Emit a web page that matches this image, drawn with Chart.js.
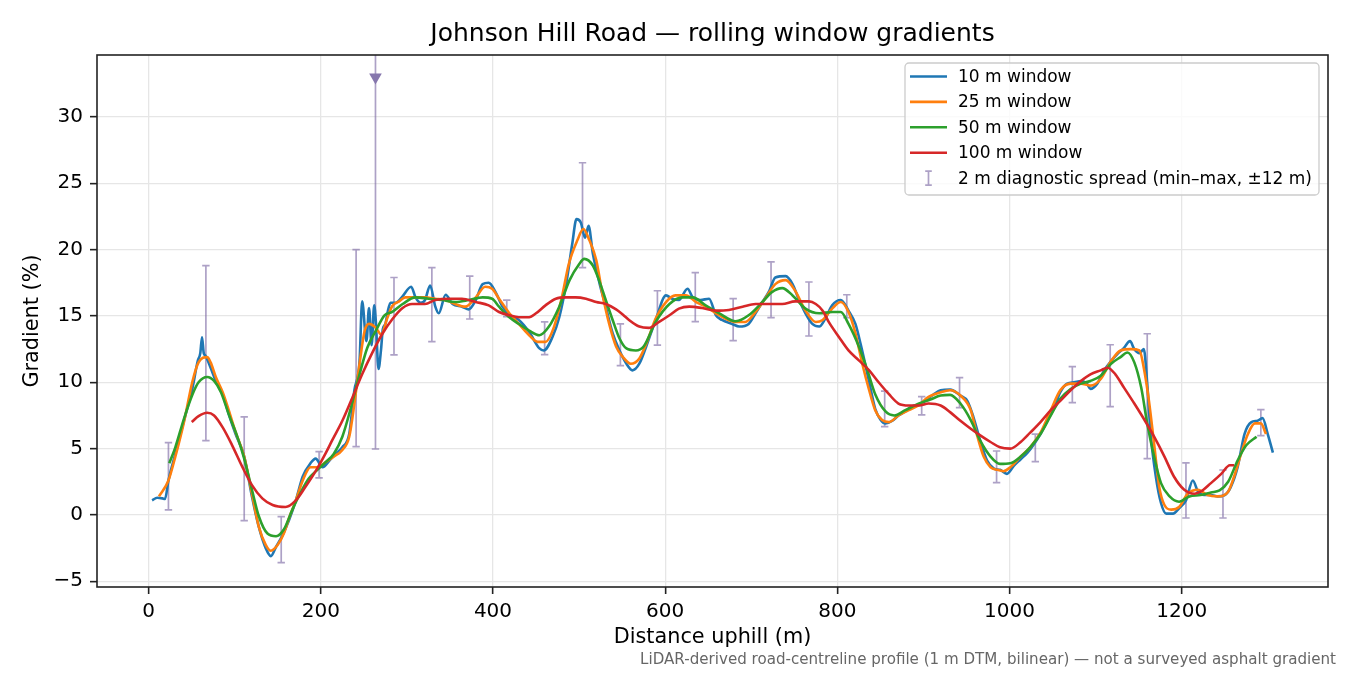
<!DOCTYPE html>
<html>
<head>
<meta charset="utf-8">
<title>Johnson Hill Road gradients</title>
<script src="https://cdn.jsdelivr.net/npm/chart.js@4.4.1/dist/chart.umd.min.js"></script>
<style>
  html, body { margin: 0; padding: 0; background: #fff; }
  #wrap { width: 1350px; height: 675px; }
</style>
</head>
<body>
<div id="wrap"><canvas id="gradChart" width="1350" height="675"></canvas></div>
<script>
// distance uphill (m) and gradient (%) per rolling window
const d10 = [4,10,16,19,23,31,41,51,57,60,
  62,64,66,72,78,86,93,101,111,120,
  128,136,142,148,155,163,171,179,188,194,
  202,210,217,225,233,239,245,248,253,256,
  259,262,264,267,270,272,275,278,281,287,
  294,305,310,316,321,327,333,337,345,353,
  364,372,380,388,395,403,411,421,430,442,
  454,459,469,477,485,492,497,502,507,511,
  516,524,531,539,547,555,562,570,578,589,
  601,608,616,626,632,641,651,659,666,678,
  686,697,705,713,721,728,740,748,755,763,
  771,779,786,794,804,813,821,827,833,839,
  844,850,856,864,871,879,887,895,902,912,
  920,931,943,951,958,966,974,982,989,997,
  1005,1013,1021,1028,1036,1044,1052,1059,1067,1075,
  1083,1090,1094,1102,1110,1118,1125,1133,1140,1145,
  1151,1156,1160,1164,1170,1176,1182,1190,1197,1205,
  1213,1219,1226,1234,1242,1250,1257,1265,1273,1281,
  1288,1294,1300,1306];
const g10 = [1.1,1.3,1.25,1.2,2.6,4.6,7.1,9.6,11.6,12.2,
  13.4,12.2,12.0,11.1,10.1,9.1,7.6,6.1,4.4,1.4,
  -0.9,-2.5,-3.1,-2.4,-1.6,-0.4,1.1,2.9,3.9,4.25,
  3.6,4.1,4.6,5.1,6.1,9.4,11.6,16.1,13.1,15.6,
  12.8,15.8,14.5,11.0,12.5,14.0,14.4,15.4,16.0,16.0,
  16.4,17.2,16.4,16.0,16.2,17.3,15.7,15.2,16.6,15.9,
  15.7,15.5,16.2,17.4,17.5,16.8,15.7,15.0,14.7,13.8,
  12.55,12.4,13.4,14.9,17.4,20.4,22.3,22.05,20.9,21.8,
  19.7,17.4,15.7,13.7,12.4,11.4,10.9,11.4,12.7,14.7,
  16.55,16.3,16.2,17.05,16.4,16.2,16.3,15.05,14.7,14.4,
  14.2,14.4,15.2,16.05,16.9,17.9,18.0,17.4,16.3,15.2,
  14.4,14.2,14.8,15.8,16.2,15.4,14.4,12.9,11.2,9.4,
  8.0,7.2,6.9,7.1,7.5,7.8,8.2,8.3,8.6,9.1,
  9.4,9.45,9.0,8.6,7.4,5.6,4.1,3.5,3.4,3.1,
  3.7,4.2,4.7,5.3,6.1,7.1,8.1,9.25,9.9,10.0,
  10.1,9.9,9.5,9.9,10.9,11.6,12.1,12.6,13.1,12.5,
  12.2,12.5,9.9,6.1,2.9,0.9,0.1,0.1,0.5,1.1,
  2.6,1.75,1.5,1.5,1.4,1.5,2.1,3.6,6.1,7.0,
  7.1,7.3,6.1,4.7];

const d25 = [12,23,31,41,51,58,68,72,78,86,
  93,101,111,120,128,136,142,150,157,163,
  171,179,188,196,206,215,225,233,239,245,
  251,256,264,270,277,283,291,298,310,321,
  333,345,356,368,380,391,399,407,419,430,
  442,452,461,471,480,488,498,505,512,520,
  527,535,543,551,560,570,578,589,601,612,
  624,636,647,659,670,682,693,705,717,728,
  740,751,763,775,783,794,804,813,821,829,
  837,844,852,860,871,883,895,906,920,931,
  943,955,962,970,978,986,993,1001,1013,1024,
  1036,1048,1059,1071,1083,1094,1106,1118,1129,1141,
  1151,1156,1162,1168,1174,1180,1188,1197,1207,1219,
  1230,1242,1254,1261,1269,1277,1285,1292,1298];
const g25 = [1.4,2.6,4.4,7.0,10.1,11.5,11.9,11.5,10.4,9.25,
  7.9,6.25,4.4,1.6,-0.9,-2.25,-2.7,-2.25,-1.4,-0.25,
  1.1,2.6,3.6,3.6,4.0,4.4,4.9,5.9,8.4,11.4,
  13.9,14.4,14.1,13.6,14.8,15.75,16.1,16.4,16.4,16.4,
  16.3,16.2,15.9,15.7,16.4,17.2,17.05,16.3,15.2,14.4,
  13.55,13.05,13.05,14.2,16.4,18.9,20.7,21.55,20.7,19.2,
  16.7,14.4,12.7,11.9,11.4,11.8,12.9,14.8,16.05,16.55,
  16.55,16.05,15.7,15.2,14.8,14.55,14.55,15.3,16.4,17.4,
  17.7,16.9,15.4,14.55,14.7,15.55,16.05,15.3,13.7,11.4,
  9.4,7.9,7.15,7.0,7.5,7.9,8.3,8.9,9.25,9.4,
  9.0,7.9,6.1,4.4,3.6,3.4,3.3,3.6,4.4,5.1,
  6.2,7.9,9.4,9.9,9.9,9.75,10.25,11.6,12.4,12.5,
  12.4,11.1,8.6,5.35,2.1,0.75,0.4,0.6,1.6,1.9,
  1.5,1.4,1.75,2.9,4.6,6.1,6.9,6.9,6.1];

const d50 = [24,31,41,51,58,68,76,84,93,103,
  111,120,128,138,148,157,167,177,186,196,
  206,215,225,235,245,254,264,274,283,295,
  310,325,341,356,372,388,399,407,419,430,
  442,454,465,477,489,500,506,516,524,531,
  539,547,555,566,575,589,605,620,632,647,
  663,682,697,713,724,736,748,763,779,794,
  804,813,825,835,844,856,866,879,895,908,
  920,931,943,955,966,978,989,1001,1013,1024,
  1036,1048,1059,1071,1083,1094,1106,1118,1129,1137,
  1145,1153,1160,1168,1176,1186,1197,1209,1222,1234,
  1244,1254,1265,1275,1287];
const g50 = [3.9,5.1,7.25,9.1,10.0,10.4,10.1,9.25,7.6,5.9,
  4.25,1.9,-0.1,-1.4,-1.6,-1.1,0.4,1.75,2.75,3.4,
  4.0,4.6,5.9,8.1,10.6,12.6,13.9,15.05,15.3,15.9,
  16.4,16.3,16.2,16.05,16.2,16.4,16.3,15.7,14.9,14.4,
  13.9,13.55,14.2,15.7,17.7,18.9,19.3,18.8,17.55,16.2,
  14.7,13.3,12.55,12.4,12.7,14.55,15.9,16.4,16.4,15.8,
  15.2,14.6,15.05,16.05,16.8,17.1,16.55,15.55,15.2,15.3,
  15.3,14.4,12.7,10.9,9.1,7.8,7.5,7.9,8.4,8.7,
  9.0,9.05,8.4,7.15,5.6,4.4,3.85,3.9,4.4,5.1,
  6.1,7.5,8.75,9.5,9.9,10.1,10.5,11.4,11.9,12.25,
  11.5,9.6,6.9,4.4,2.4,1.4,1.0,1.4,1.5,1.7,
  1.85,2.5,4.1,5.25,5.9];

const d100 = [50,58,68,76,86,97,109,120,132,144,
  159,171,182,194,206,213,225,237,248,260,
  271,283,295,306,321,333,349,364,380,395,
  407,419,430,442,450,461,473,485,496,508,
  520,531,543,551,558,570,581,593,605,616,
  628,643,659,674,690,705,721,736,751,767,
  775,783,790,802,813,825,837,848,860,871,
  883,895,906,920,931,943,955,966,978,989,
  1001,1013,1024,1036,1048,1059,1071,1083,1094,1106,
  1114,1123,1133,1145,1156,1168,1180,1191,1203,1215,
  1222,1234,1246,1256,1261];
const g100 = [7.0,7.45,7.7,7.5,6.6,5.25,3.6,2.25,1.25,0.75,
  0.6,1.1,2.1,3.3,4.7,5.6,7.1,8.9,10.6,12.25,
  13.6,14.75,15.6,15.9,15.9,16.2,16.3,16.3,16.05,15.8,
  15.3,15.05,14.9,14.9,15.2,15.8,16.3,16.4,16.4,16.3,
  16.05,15.9,15.5,15.1,14.7,14.2,14.1,14.55,15.05,15.55,
  15.7,15.6,15.4,15.45,15.7,15.9,15.9,15.9,16.1,16.1,
  15.9,15.4,14.55,13.4,12.4,11.65,10.9,10.0,9.1,8.4,
  8.25,8.25,8.4,8.25,7.75,7.1,6.5,6.0,5.5,5.1,
  5.0,5.5,6.2,7.0,7.9,8.6,9.4,10.1,10.6,10.9,
  11.1,10.6,9.6,8.4,7.25,5.9,4.4,2.9,1.9,1.6,
  1.75,2.4,3.1,3.75,3.75];

// 2 m diagnostic spread (min–max within ±12 m)
const spreadX = [23,66.5,111,154,198,241,263.5,285,329,373,416,460,504,548,591,635,679,723,767,811,855,898,942,985,1030,1073,1117,1160,1205,1248,1292];
const spreadMin = [0.38,5.6,-0.43,-3.6,2.8,5.15,4.97,12.07,13.06,14.77,14.95,12.08,18.64,11.25,12.8,14.57,13.14,14.87,13.49,14.87,6.66,7.54,8.09,2.44,4.02,8.46,8.16,4.24,-0.23,-0.23,5.98];
const spreadMax = [5.45,18.8,7.4,-0.12,4.77,20.0,41.0,17.9,18.64,18.0,16.2,14.55,26.55,14.4,16.9,18.26,16.3,19.07,17.56,16.6,9.34,8.92,10.35,4.82,6.1,11.18,12.83,13.66,3.92,3.39,7.94];
// spread that runs off the top of the axis
const offX = [263.5];
const offY = [33];

const xTicks = [0, 200, 400, 600, 800, 1000, 1200];
const yTicks = [-5, 0, 5, 10, 15, 20, 25, 30];

const seriesNames = ['10 m window', '25 m window', '50 m window', '100 m window'];
const seriesColors = ['#1f77b4', '#ff7f0e', '#2ca02c', '#d62728'];
const spreadLabel = '2 m diagnostic spread (min\u2013max, \u00b112 m)';
const footNote = 'LiDAR-derived road-centreline profile (1 m DTM, bilinear) \u2014 not a surveyed asphalt gradient';

const spreadColor = 'rgba(118, 98, 160, 0.6)';
const FONT = "'DejaVu Sans', sans-serif";

function pts(xs, ys) {
    return xs.map(function (x, i) { return {x: x, y: ys[i]}; });
}

function lineSet(i, xs, ys) {
    return {
        label: seriesNames[i],
        data: pts(xs, ys),
        borderColor: seriesColors[i],
        borderWidth: 2.6,
        pointRadius: 0,
        cubicInterpolationMode: 'monotone',
        fill: false,
        order: 4 - i
    };
}

function drawBar(ctx, px, y0, y1, cap) {
    ctx.beginPath();
    ctx.moveTo(px, y0); ctx.lineTo(px, y1);
    ctx.moveTo(px - cap, y0); ctx.lineTo(px + cap, y0);
    ctx.moveTo(px - cap, y1); ctx.lineTo(px + cap, y1);
    ctx.stroke();
}

const spreadBars = {
    id: 'spreadBars',
    beforeDatasetsDraw(chart) {
        const {ctx, chartArea: a, scales: {x, y}} = chart;
        ctx.save();
        ctx.beginPath();
        ctx.rect(a.left, a.top, a.right - a.left, a.bottom - a.top);
        ctx.clip();
        ctx.strokeStyle = spreadColor;
        ctx.lineWidth = 1.7;
        for (let i = 0; i < spreadX.length; i++) {
            drawBar(ctx, x.getPixelForValue(spreadX[i]),
                y.getPixelForValue(spreadMin[i]), y.getPixelForValue(spreadMax[i]), 3.7);
        }
        ctx.restore();
    }
};

const frameLegend = {
    id: 'frameLegend',
    afterDraw(chart) {
        const {ctx, chartArea: a} = chart;
        ctx.save();
        ctx.strokeStyle = '#222';
        ctx.lineWidth = 1.6;
        ctx.strokeRect(a.left, a.top, a.right - a.left, a.bottom - a.top);

        // legend box, upper right
        const bx = a.right - 423, by = a.top + 8, bw = 414, bh = 132;
        ctx.beginPath();
        ctx.roundRect(bx, by, bw, bh, 4);
        ctx.fillStyle = 'rgba(255,255,255,0.8)';
        ctx.fill();
        ctx.strokeStyle = '#cccccc';
        ctx.lineWidth = 1.3;
        ctx.stroke();

        ctx.font = '17px ' + FONT;
        ctx.textBaseline = 'middle';
        ctx.textAlign = 'left';
        for (let i = 0; i < 5; i++) {
            const ry = by + 13.5 + i * 25.4;
            if (i < 4) {
                ctx.strokeStyle = seriesColors[i];
                ctx.lineWidth = 2.6;
                ctx.beginPath();
                ctx.moveTo(bx + 5, ry); ctx.lineTo(bx + 42, ry);
                ctx.stroke();
            } else {
                ctx.strokeStyle = spreadColor;
                ctx.lineWidth = 1.7;
                drawBar(ctx, bx + 23.5, ry - 7, ry + 7, 3.3);
            }
            ctx.fillStyle = '#000';
            ctx.fillText(i < 4 ? seriesNames[i] : spreadLabel, bx + 53, ry + 1);
        }

        ctx.font = '15.1px ' + FONT;
        ctx.fillStyle = '#666';
        ctx.textAlign = 'right';
        ctx.fillText(footNote, 1336, 660);
        ctx.restore();
    }
};

function fixedTicks(list) {
    return function (scale) {
        scale.ticks = list.map(function (v) { return {value: v}; });
    };
}

function init_gradients() {
    const ctx = document.getElementById('gradChart').getContext('2d');
    Chart.defaults.font.family = FONT;
    return new Chart(ctx, {
        type: 'line',
        data: {
            datasets: [
                lineSet(0, d10, g10),
                lineSet(1, d25, g25),
                lineSet(2, d50, g50),
                lineSet(3, d100, g100),
                {
                    label: 'off scale',
                    data: pts(offX, offY),
                    showLine: false,
                    pointStyle: 'triangle',
                    pointRotation: 180,
                    pointRadius: 7.3,
                    pointBackgroundColor: '#8677ad',
                    pointBorderWidth: 0,
                    order: 0
                }
            ]
        },
        options: {
            responsive: false,
            animation: false,
            devicePixelRatio: 1,
            layout: {padding: {left: 0, right: 22, top: 0, bottom: 0}},
            plugins: {
                legend: {display: false},
                tooltip: {enabled: false},
                title: {
                    display: true,
                    fullSize: false,
                    text: 'Johnson Hill Road \u2014 rolling window gradients',
                    color: '#000',
                    font: {size: 25, weight: 'normal'},
                    padding: {top: 19, bottom: 6}
                }
            },
            scales: {
                x: {
                    type: 'linear',
                    min: -60,
                    max: 1370,
                    afterBuildTicks: fixedTicks(xTicks),
                    afterFit: function (s) { s.height = 88; },
                    border: {display: false},
                    grid: {color: '#e6e6e6', lineWidth: 1.3, tickLength: 7, tickColor: '#222', tickWidth: 1.6},
                    ticks: {
                        color: '#000', font: {size: 20}, padding: 6, maxRotation: 0, autoSkip: false,
                        callback: function (v) { return String(v); }
                    },
                    title: {display: true, text: 'Distance uphill (m)', color: '#000', font: {size: 20.8}, padding: {top: 0, bottom: 24.5}}
                },
                y: {
                    min: -5.43,
                    max: 34.67,
                    afterBuildTicks: fixedTicks(yTicks),
                    afterFit: function (s) { s.width = 97; },
                    border: {display: false},
                    grid: {color: '#e6e6e6', lineWidth: 1.3, tickLength: 7, tickColor: '#222', tickWidth: 1.6},
                    ticks: {
                        color: '#000', font: {size: 20}, padding: 7, autoSkip: false,
                        callback: function (v) { return v < 0 ? '\u2212' + Math.abs(v) : String(v); }
                    },
                    title: {display: true, text: 'Gradient (%)', color: '#000', font: {size: 20.8}, padding: {top: 20, bottom: 0}}
                }
            }
        },
        plugins: [spreadBars, frameLegend]
    });
}

init_gradients();
</script>
</body>
</html>
